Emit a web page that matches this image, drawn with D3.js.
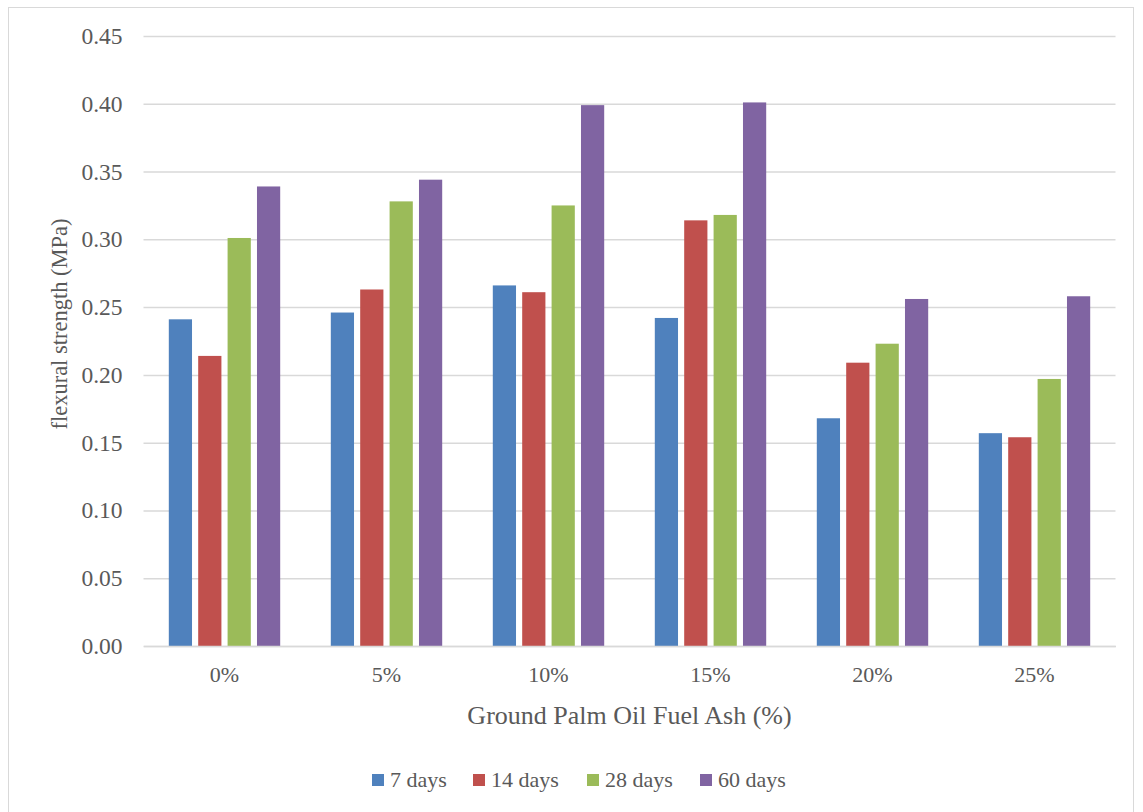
<!DOCTYPE html>
<html>
<head>
<meta charset="utf-8">
<script src="https://cdn.jsdelivr.net/npm/d3@7"></script>
<style>
  html, body { margin: 0; padding: 0; background: #fff; }
  svg { display: block; }
  text { font-family: "Liberation Serif", "Times New Roman", serif; fill: #595959; }
</style>
</head>
<body>
<svg id="chart" width="1143" height="812"></svg>
<script>
const categories = ["0%", "5%", "10%", "15%", "20%", "25%"];
const seriesNames = ["7 days", "14 days", "28 days", "60 days"];
const seriesColors = ["#4F81BD", "#C0504D", "#9BBB59", "#8064A2"];
const days7  = [0.241, 0.246, 0.266, 0.242, 0.168, 0.157];
const days14 = [0.214, 0.263, 0.261, 0.314, 0.209, 0.154];
const days28 = [0.301, 0.328, 0.325, 0.318, 0.223, 0.197];
const days60 = [0.339, 0.344, 0.399, 0.401, 0.256, 0.258];
const yTicks = [0, 0.05, 0.10, 0.15, 0.20, 0.25, 0.30, 0.35, 0.40, 0.45];
const seriesValues = [days7, days14, days28, days60];

const svg = d3.select("#chart");

// outer frame
svg.append("rect").attr("x", 8.5).attr("y", 7.5).attr("width", 1125).attr("height", 820)
  .attr("fill", "#fff").attr("stroke", "#d9d9d9").attr("stroke-width", 1);

const plot = { left: 143.5, right: 1115.5, top: 36, bottom: 646 };

const y = d3.scaleLinear().domain([0, 0.45]).range([plot.bottom, plot.top]);
const x0 = d3.scaleBand().domain(categories).range([plot.left, plot.right]).paddingInner(0).paddingOuter(0);
const groupW = 111.4;
const off = (x0.bandwidth() - groupW) / 2;
const x1 = d3.scaleBand().domain(seriesNames).range([off, off + groupW]).paddingInner(0.21).paddingOuter(0);

// gridlines
const yAxis = d3.axisLeft(y).tickValues(yTicks).tickFormat(d3.format(".2f"))
  .tickSize(-(plot.right - plot.left)).tickPadding(21);
const gy = svg.append("g").attr("transform", `translate(${plot.left},0)`).call(yAxis);
gy.select(".domain").remove();
gy.selectAll(".tick line").attr("stroke", "#d9d9d9").attr("stroke-width", 1.5);
gy.selectAll(".tick text").attr("font-size", 23.5).attr("fill", "#595959")
  .style("font-family", '"Liberation Serif", serif');

// bars
const groups = svg.append("g").selectAll("g")
  .data(categories).join("g")
  .attr("transform", d => `translate(${x0(d)},0)`);
groups.selectAll("rect")
  .data((c, i) => seriesNames.map((s, j) => ({ s, j, v: seriesValues[j][i] })))
  .join("rect")
  .attr("x", d => x1(d.s))
  .attr("width", x1.bandwidth())
  .attr("y", d => y(d.v))
  .attr("height", d => y(0) - y(d.v))
  .attr("fill", d => seriesColors[d.j]);

// x axis
const xAxis = d3.axisBottom(x0).tickSize(0).tickPadding(20);
const gx = svg.append("g").attr("transform", `translate(0,${plot.bottom})`).call(xAxis);
gx.select(".domain").attr("stroke", "#d9d9d9").attr("stroke-width", 1.5);
gx.selectAll(".tick text").attr("font-size", 22).attr("fill", "#595959")
  .style("font-family", '"Liberation Serif", serif');

// axis titles
svg.append("text").attr("x", (plot.left + plot.right) / 2).attr("y", 724)
  .attr("text-anchor", "middle").attr("font-size", 26).text("Ground Palm Oil Fuel Ash (%)");
svg.append("text").attr("transform", "translate(67,324) rotate(-90)")
  .attr("text-anchor", "middle").attr("font-size", 22.5).text("flexural strength (MPa)");

// legend
const legendX = [372, 473, 587, 700];
const lg = svg.append("g").selectAll("g").data(seriesNames).join("g")
  .attr("transform", (d, i) => `translate(${legendX[i]},774)`);
lg.append("rect").attr("width", 12).attr("height", 12).attr("fill", (d, i) => seriesColors[i]);
lg.append("text").attr("x", 18).attr("y", 13).attr("font-size", 22).text(d => d);
</script>
</body>
</html>
